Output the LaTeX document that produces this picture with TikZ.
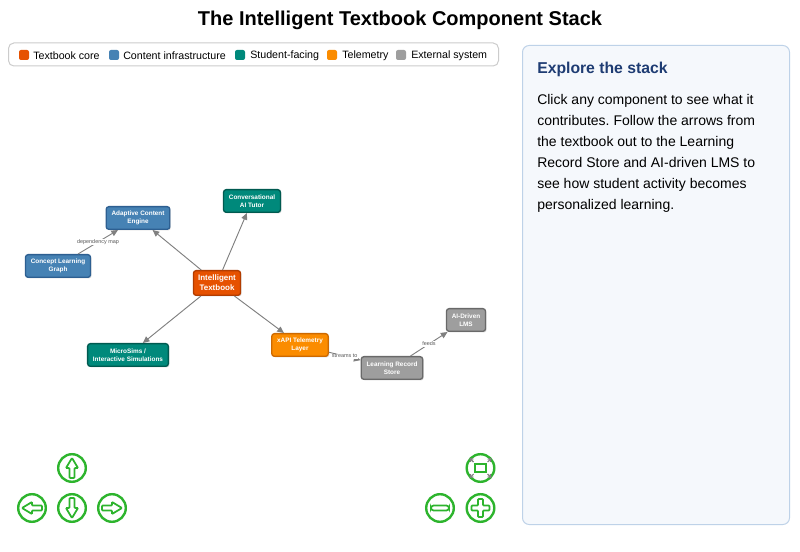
\documentclass[tikz,border=0pt]{standalone}
\usepackage{fontspec}
\setmainfont{Liberation Sans}
\usetikzlibrary{arrows.meta,shadows,positioning}
\definecolor{core}{RGB}{230,81,0}
\definecolor{coredk}{RGB}{178,60,0}
\definecolor{infra}{RGB}{70,130,180}
\definecolor{infradk}{RGB}{45,95,145}
\definecolor{stud}{RGB}{0,137,123}
\definecolor{studdk}{RGB}{0,90,80}
\definecolor{telem}{RGB}{251,140,0}
\definecolor{telemdk}{RGB}{205,105,0}
\definecolor{ext}{RGB}{158,158,158}
\definecolor{extdk}{RGB}{105,105,105}
\definecolor{btn}{RGB}{45,180,45}
\definecolor{panel}{RGB}{245,248,252}
\definecolor{paneldk}{RGB}{190,210,232}
\definecolor{navy}{RGB}{30,60,115}
\definecolor{edge}{RGB}{128,128,128}
\frenchspacing

\begin{document}
\begin{tikzpicture}[x=0.75pt, y=-0.75pt,
    comp/.style={rounded corners=2pt, draw=#1dk, fill=#1, line width=1pt, text=white,
                 font=\fontsize{4.8}{6.4}\selectfont\bfseries, align=center,
                 inner xsep=4pt, inner ysep=2pt, minimum height=17pt,
                 drop shadow={shadow xshift=0.8pt, shadow yshift=-0.8pt, opacity=0.25}},
    arr/.style={-{Triangle[length=5pt, width=4.5pt]}, line width=0.7pt, draw=edge},
    elbl/.style={font=\fontsize{4.1}{5}\selectfont, text=black!65, fill=white, inner sep=0.5pt},
    swatch/.style={rounded corners=1.5pt, fill=#1, minimum size=7.5pt, inner sep=0pt},
    btn/.style={circle, draw=btn, line width=1.8pt, fill=white, minimum size=20.7pt, inner sep=0pt},
    icon/.style={draw=btn, line width=1.3pt, rounded corners=0.6pt}]

    \useasboundingbox (0,0) rectangle (800,552);
    \fill[white] (0,0) rectangle (800,552);

    % title and legend
    \node[font=\fontsize{15}{18}\selectfont\bfseries] (title) at (400,20.5)
      {The Intelligent Textbook Component Stack};
    \node[draw=black!20, rounded corners=4pt, fill=white, line width=0.75pt,
          minimum width=367.5pt, minimum height=17.25pt, inner sep=0pt] (legend) at (253.5,54.5) {};
    \foreach \sx/\col/\tx/\lbl [count=\i] in {24/core/33/Textbook core,
        114/infra/123/Content infrastructure, 240/stud/250/Student-facing,
        332/telem/342/Telemetry, 401/ext/411/External system} {
      \node[swatch=\col] (sw\i) at (\sx,55) {};
      \node[anchor=west, inner sep=0pt, font=\fontsize{8}{9}\selectfont] (lg\i) at (\tx,55.8) {\lbl};
    }

    % side panel
    \node[draw=paneldk, fill=panel, rounded corners=5pt, line width=0.75pt, anchor=north west,
          minimum width=200.25pt, minimum height=359.25pt] (panel) at (522,45) {};
    \node[anchor=west, inner sep=0pt, text=navy, font=\fontsize{11.8}{14}\selectfont\bfseries]
      (ptitle) at (537,69.5) {Explore the stack};
    \node[anchor=north west, inner sep=0pt, align=left, font=\fontsize{10.5}{15.75}\selectfont]
      (pbody) at (537,94.5) {Click any component to see what it\\
        contributes. Follow the arrows from\\
        the textbook out to the Learning\\
        Record Store and AI-driven LMS to\\
        see how student activity becomes\\
        personalized learning.};

    % components
    \node[comp=core, font=\fontsize{6}{7.5}\selectfont\bfseries, minimum height=18.5pt,
          inner xsep=3.5pt] (core) at (217,283) {Intelligent\\Textbook};
    \node[comp=infra] (adaptive)  at (138,218) {Adaptive Content\\Engine};
    \node[comp=stud]  (tutor)     at (252,201) {Conversational\\AI Tutor};
    \node[comp=infra] (graph)     at (58,266)  {Concept Learning\\Graph};
    \node[comp=stud]  (microsims) at (128,355) {MicroSims /\\Interactive Simulations};
    \node[comp=telem] (xapi)      at (300,345) {xAPI Telemetry\\Layer};
    \node[comp=ext]   (lrs)       at (392,368) {Learning Record\\Store};
    \node[comp=ext]   (lms)       at (466,320) {AI-Driven\\LMS};

    \draw[arr] (core) -- (adaptive);
    \draw[arr] (core) -- (tutor);
    \draw[arr] (core) -- (microsims);
    \draw[arr] (core) -- (xapi);
    \draw[arr] (graph) -- node[elbl] {dependency map} (adaptive);
    \draw[arr] (xapi) -- node[elbl] {streams to} (lrs);
    \draw[arr] (lrs) -- node[elbl] {feeds} (lms);

    % navigation buttons
    \foreach \nm/\bx/\by in {up/72/468, left/32/508, down/72/508, right/112/508,
                             fit/480.5/468, minus/440/508, plus/480.5/508}
      \node[btn] (\nm) at (\bx,\by) {};
    \foreach \nm/\ang in {up/90, left/180, down/-90, right/0}
      \draw[icon, shift={(\nm.center)}, rotate=\ang]
        (-10,-2.5) -- (0,-2.5) -- (0,-6) -- (10,0) -- (0,6) -- (0,2.5) -- (-10,2.5) -- cycle;
    \draw[icon, shift={(minus.center)}, rounded corners=2pt] (-9,-2.5) rectangle (9,2.5);
    \draw[icon, shift={(plus.center)}]
      (-9,-2.5) -- (-2.5,-2.5) -- (-2.5,-9) -- (2.5,-9) -- (2.5,-2.5) -- (9,-2.5) --
      (9,2.5) -- (2.5,2.5) -- (2.5,9) -- (-2.5,9) -- (-2.5,2.5) -- (-9,2.5) -- cycle;
    \draw[icon, shift={(fit.center)}, rounded corners=0pt] (-5.5,-4) rectangle (5.5,4);
    \foreach \sx/\sy in {1/1, 1/-1, -1/1, -1/-1}
      \draw[black!50, line width=0.8pt, -{Straight Barb[length=2pt, width=3pt]}, shift={(fit.center)}]
        (\sx*7,\sy*6) -- (\sx*11,\sy*10);
  \end{tikzpicture}
\end{document}
